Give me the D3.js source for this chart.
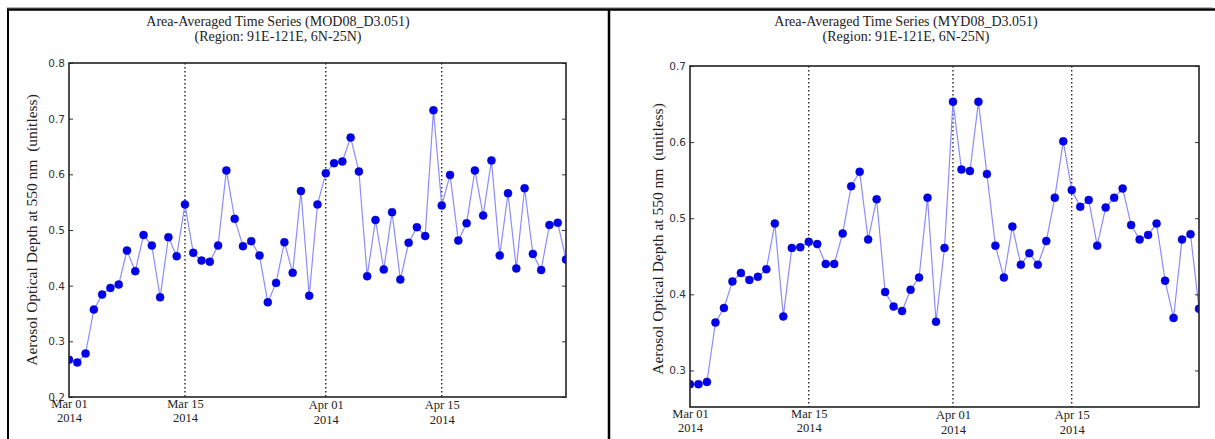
<!DOCTYPE html>
<html><head><meta charset="utf-8">
<script src="https://cdn.jsdelivr.net/npm/d3@7"></script>
<style>html,body{margin:0;padding:0;background:#fff;}svg{display:block;} .pre{white-space:pre;}</style>
</head><body>
<svg id="c" width="1215" height="439"></svg>
<script>
// Dates: Mar 01 2014 .. Apr 30 2014 (daily)
const startDate = "2014-03-01";
const endDate = "2014-04-30";
const tickDates = ["2014-03-01","2014-03-15","2014-04-01","2014-04-15"];
const tickLabels = [["Mar 01","2014"],["Mar 15","2014"],["Apr 01","2014"],["Apr 15","2014"]];
const gridDates = ["2014-03-15","2014-04-01","2014-04-15"];

const titlesMOD = ["Area-Averaged Time Series (MOD08_D3.051)","(Region: 91E-121E, 6N-25N)"];
const titlesMYD = ["Area-Averaged Time Series (MYD08_D3.051)","(Region: 91E-121E, 6N-25N)"];
const yLabel = "Aerosol Optical Depth at 550 nm  (unitless)";

const modValues = [0.267,0.262,0.278,0.357,0.384,0.396,0.402,0.463,0.426,0.491,0.472,0.379,0.487,0.453,0.546,
0.459,0.445,0.443,0.472,0.607,0.520,0.471,0.480,0.454,0.370,0.405,0.478,0.423,0.570,0.382,0.546,
0.602,0.620,0.623,0.666,0.605,0.417,0.518,0.429,0.532,0.411,0.477,0.505,0.489,0.715,
0.544,0.599,0.481,0.512,0.607,0.526,0.625,0.454,0.566,0.431,0.575,0.457,0.428,0.509,0.513,0.447];

const mydValues = [0.282,0.282,0.285,0.363,0.382,0.417,0.428,0.419,0.423,0.433,0.493,0.371,0.461,0.462,0.469,
0.466,0.440,0.440,0.480,0.542,0.561,0.472,0.525,0.403,0.384,0.378,0.406,0.422,0.527,0.364,0.461,
0.653,0.564,0.562,0.653,0.558,0.464,0.422,0.489,0.439,0.454,0.439,0.470,0.527,0.601,
0.537,0.515,0.524,0.464,0.514,0.527,0.539,0.491,0.472,0.478,0.493,0.418,0.369,0.472,0.479,0.381];

const modYTicks = [0.2,0.3,0.4,0.5,0.6,0.7,0.8];
const mydYTicks = [0.3,0.4,0.5,0.6,0.7];

const parse = d3.utcParse("%Y-%m-%d");
const dates = d3.utcDay.range(parse(startDate), d3.utcDay.offset(parse(endDate),1));

const svg = d3.select("#c");

// frame
svg.append("line").attr("x1",7).attr("x2",1213).attr("y1",7.5).attr("y2",7.5).attr("stroke","#bbb").attr("stroke-width",1);
svg.append("line").attr("x1",7).attr("x2",1215).attr("y1",9.5).attr("y2",9.5).attr("stroke","#000").attr("stroke-width",2.5);
svg.append("line").attr("x1",8).attr("x2",8).attr("y1",9).attr("y2",439).attr("stroke","#000").attr("stroke-width",2);
svg.append("line").attr("x1",609).attr("x2",609).attr("y1",9).attr("y2",439).attr("stroke","#000").attr("stroke-width",2.5);

function panel(cfg){
  const g = svg.append("g");
  const x = d3.scaleUtc().domain([parse(startDate), parse(endDate)]).range([cfg.x0, cfg.x1]);
  const y = d3.scaleLinear().domain(cfg.yDomain).range([cfg.y1, cfg.y0]);
  const data = dates.map((d,i)=>({d, v: cfg.values[i]}));

  const cid = "clip"+cfg.id;
  svg.append("clipPath").attr("id",cid).append("rect")
    .attr("x",cfg.x0).attr("y",cfg.y0).attr("width",cfg.x1-cfg.x0).attr("height",cfg.y1-cfg.y0);

  // grid
  g.selectAll(".grid").data(gridDates).enter().append("line")
    .attr("x1",d=>x(parse(d))).attr("x2",d=>x(parse(d)))
    .attr("y1",cfg.y0).attr("y2",cfg.y1)
    .attr("stroke","#000").attr("stroke-width",1.2).attr("stroke-dasharray","1.5,2.5");

  const pg = g.append("g").attr("clip-path",`url(#${cid})`);
  pg.append("path").datum(data)
    .attr("d", d3.line().x(d=>x(d.d)).y(d=>y(d.v)))
    .attr("fill","none").attr("stroke","#8c8cff").attr("stroke-width",1.2);
  pg.selectAll("circle").data(data).enter().append("circle")
    .attr("cx",d=>x(d.d)).attr("cy",d=>y(d.v)).attr("r",4)
    .attr("fill","#0000ee").attr("stroke","#0000b0").attr("stroke-width",0.5);

  // axes
  const yAxisL = d3.axisLeft(y).tickValues(cfg.yTicks).tickSize(-4).tickPadding(4).tickFormat(d3.format(".1f"));
  const ga = g.append("g").attr("transform",`translate(${cfg.x0},0)`).call(yAxisL);
  ga.select(".domain").remove();
  ga.selectAll("line").attr("stroke","#333");
  ga.selectAll("text").attr("font-family","DejaVu Sans").attr("font-size",10.5).attr("fill","#333");
  const yAxisR = d3.axisRight(y).tickValues(cfg.yTicks).tickSize(-4).tickFormat("");
  const gr = g.append("g").attr("transform",`translate(${cfg.x1},0)`).call(yAxisR);
  gr.select(".domain").remove();
  gr.selectAll("line").attr("stroke","#333");

  const xAxis = d3.axisBottom(x).tickValues(tickDates.map(parse)).tickSize(0).tickPadding(4).tickFormat("");
  const gx = g.append("g").attr("transform",`translate(0,${cfg.y1})`).call(xAxis);
  gx.select(".domain").remove();
  gx.selectAll(".tick").each(function(d,i){
    const t = d3.select(this).append("text").attr("fill","#222")
      .attr("font-family","Liberation Serif").attr("font-size",12.5).attr("text-anchor","middle");
    t.append("tspan").attr("x",0).attr("y",11+(i>=2?1:0)).text(tickLabels[i][0]);
    t.append("tspan").attr("x",0).attr("y",25+(i>=2?2:0)).text(tickLabels[i][1]);
  });

  // spines
  g.append("rect").attr("x",cfg.x0).attr("y",cfg.y0).attr("width",cfg.x1-cfg.x0).attr("height",cfg.y1-cfg.y0)
    .attr("fill","none").attr("stroke","#222").attr("stroke-width",1.6);

  // titles
  g.append("text").attr("x",cfg.tx).attr("y",26).attr("text-anchor","middle")
    .attr("font-family","Liberation Serif").attr("font-size",14).attr("fill","#222").text(cfg.titles[0]);
  g.append("text").attr("x",cfg.tx).attr("y",41).attr("text-anchor","middle")
    .attr("font-family","Liberation Serif").attr("font-size",14).attr("fill","#222").text(cfg.titles[1]);

  // y label
  g.append("text").attr("class","pre").attr("transform",`translate(${cfg.lx},${cfg.ly}) rotate(-90)`).attr("text-anchor","middle")
    .attr("font-family","Liberation Serif").attr("font-size",15.5).attr("fill","#222").text(yLabel);
}

panel({id:"mod", x0:69, x1:566, y0:63, y1:397, yDomain:[0.2,0.8], yTicks:modYTicks, values:modValues,
  titles:titlesMOD, tx:278, lx:37, ly:230});
panel({id:"myd", x0:690, x1:1199, y0:66, y1:407, yDomain:[0.252,0.7], yTicks:mydYTicks, values:mydValues,
  titles:titlesMYD, tx:906, lx:663, ly:239});
</script>
</body></html>
